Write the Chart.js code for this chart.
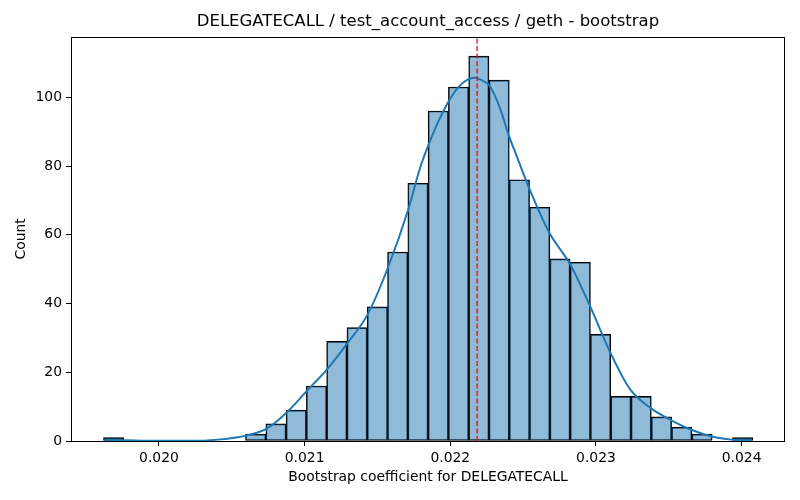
<!DOCTYPE html>
<html>
<head>
<meta charset="utf-8">
<script src="https://cdn.jsdelivr.net/npm/chart.js@4.4.0/dist/chart.umd.min.js"></script>
<style>
  body { margin: 0; background: #fff; }
  #wrap { width: 800px; height: 500px; }
</style>
</head>
<body>
<div id="wrap"><canvas id="grafico" width="800" height="500"></canvas></div>
<script>
// histogram bins (32 bins, first edge + width)
const binStart = 0.019619;
const binWidth = 0.0001393;
const counts = [1, 0, 0, 0, 0, 0, 0, 2, 5, 9, 16, 29, 33, 39, 55, 75,
                96, 103, 112, 105, 76, 68, 53, 52, 31, 13, 13, 7, 4, 2, 0, 1];

// kde curve
const kdeX = [0.019626, 0.019763, 0.019995, 0.020221, 0.020405, 0.020528, 0.020610, 0.020740,
              0.020884, 0.021020, 0.021157, 0.021294, 0.021431, 0.021567, 0.021711, 0.021793,
              0.021847, 0.021909, 0.021984, 0.022053, 0.022121, 0.022169, 0.022223, 0.022271,
              0.022340, 0.022401, 0.022456, 0.022545, 0.022681, 0.022825, 0.022962, 0.023098,
              0.023235, 0.023379, 0.023515, 0.023659, 0.023796, 0.023932, 0.024069];
const kdeY = [0.3, 0.2, 0.05, 0.05, 0.4, 1.0, 1.7, 3.6,
              8.6, 14.8, 21, 28.5, 36.7, 49.9, 67.3, 79.5,
              85.8, 92.1, 98.5, 102.8, 105.2, 105.7, 104.8, 103.3,
              97, 89, 82.9, 73.2, 60.5, 51.3, 39, 25.8,
              15, 9.5, 6.1, 3.2, 1.3, 0.4, 0.2];

const meanValue = 0.022184;
const xStep = 0.001;
const yStep = 20;
const xMin = 0.019396, xMax = 0.024298;
const yMax = 117.6;

const fuente = "'DejaVu Sans', sans-serif";

const barras = counts.map((c, i) => ({x: binStart + binWidth * (i + 0.5), y: c === 0 ? null : c}));
const curva = kdeX.map((x, i) => ({x: x, y: kdeY[i]}));

// frame round the plot area, like matplotlib spines
const marco = {
  id: 'marco',
  afterDraw(chart) {
    const a = chart.chartArea;
    const ctx = chart.ctx;
    ctx.save();
    ctx.strokeStyle = '#000';
    ctx.lineWidth = 1;
    ctx.strokeRect(Math.round(a.left) + 0.5, Math.round(a.top) + 0.5,
                   Math.round(a.right - a.left) - 1, Math.round(a.bottom - a.top));
    ctx.restore();
  }
};

const config = {
  type: 'bar',
  data: {
    datasets: [
      {
        type: 'line',
        data: [{x: meanValue, y: 0}, {x: meanValue, y: yMax}],
        borderColor: 'red',
        borderWidth: 1.3,
        borderDash: [5, 2.5],
        pointRadius: 0,
        order: 1
      },
      {
        type: 'line',
        data: curva,
        borderColor: '#1f77b4',
        borderWidth: 2,
        pointRadius: 0,
        cubicInterpolationMode: 'monotone',
        order: 2
      },
      {
        type: 'bar',
        data: barras,
        backgroundColor: 'rgba(31,119,180,0.5)',
        borderColor: '#000',
        borderWidth: 1,
        borderSkipped: false,
        barPercentage: 1,
        categoryPercentage: 1,
        order: 3
      }
    ]
  },
  options: {
    responsive: false,
    animation: false,
    devicePixelRatio: 1,
    layout: { padding: { top: 0, right: 15, left: 0, bottom: 0 } },
    plugins: {
      legend: { display: false },
      tooltip: { enabled: false },
      title: {
        display: true,
        text: 'DELEGATECALL / test_account_access / geth - bootstrap',
        color: '#000',
        fullSize: false,
        font: { family: fuente, size: 16.5, weight: 'normal', lineHeight: 1.2 },
        padding: { top: 12, bottom: 5 }
      }
    },
    scales: {
      x: {
        type: 'linear',
        offset: false,
        min: xMin,
        max: xMax,
        afterFit(s) { s.height = 59; },
        border: { display: false },
        grid: { display: true, offset: false, drawOnChartArea: false, drawTicks: true, tickLength: 5, color: '#000' },
        ticks: {
          stepSize: xStep,
          includeBounds: false,
          autoSkip: false,
          color: '#000',
          padding: 4,
          maxRotation: 0,
          font: { family: fuente, size: 13.9 },
          callback: v => v.toFixed(3)
        },
        title: {
          display: true,
          text: 'Bootstrap coefficient for DELEGATECALL',
          color: '#000',
          font: { family: fuente, size: 13.9, lineHeight: 1.2 },
          padding: { top: 0, bottom: 14.5 }
        }
      },
      y: {
        min: 0,
        max: yMax,
        afterFit(s) { s.width = 71; },
        border: { display: false },
        grid: { display: true, offset: false, drawOnChartArea: false, drawTicks: true, tickLength: 5, color: '#000' },
        ticks: {
          stepSize: yStep,
          includeBounds: false,
          color: '#000',
          padding: 4,
          font: { family: fuente, size: 13.9 }
        },
        title: {
          display: true,
          text: 'Count',
          color: '#000',
          font: { family: fuente, size: 13.9, lineHeight: 1.2 },
          padding: { top: 13.5, bottom: 0 }
        }
      }
    }
  },
  plugins: [marco]
};

new Chart(document.getElementById('grafico'), config);
</script>
</body>
</html>
